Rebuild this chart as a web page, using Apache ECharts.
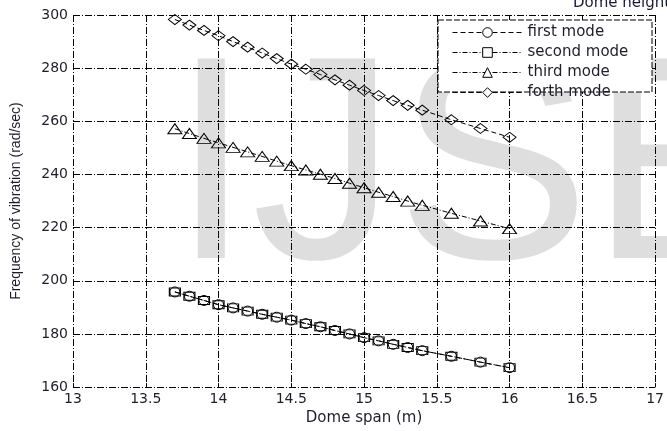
<!DOCTYPE html>
<html>
<head>
<meta charset="UTF-8">
<title>Dome span vs frequency</title>
<script src="https://cdn.jsdelivr.net/npm/echarts@6/dist/echarts.min.js"></script>
<style>
html, body { margin: 0; padding: 0; background: #fff; }
#chart { width: 667px; height: 431px; }
</style>
</head>
<body>
<div id="chart"></div>
<script type="text/javascript">
// dome span (m)
var spans = [13.7, 13.8, 13.9, 14.0, 14.1, 14.2, 14.3, 14.4, 14.5, 14.6, 14.7,
             14.8, 14.9, 15.0, 15.1, 15.2, 15.3, 15.4, 15.6, 15.8, 16.0];
// frequency of vibration (rad/sec)
var firstMode  = [195.8, 194.2, 192.6, 191.0, 189.8, 188.6, 187.4, 186.3, 185.2, 183.9, 182.7,
                  181.3, 180.0, 178.6, 177.4, 176.1, 174.9, 173.7, 171.6, 169.4, 167.3];
var secondMode = [195.8, 194.2, 192.6, 191.0, 189.8, 188.6, 187.4, 186.3, 185.2, 183.9, 182.7,
                  181.3, 180.0, 178.6, 177.4, 176.1, 174.9, 173.7, 171.6, 169.4, 167.3];
var thirdMode  = [257.2, 255.4, 253.6, 251.9, 250.2, 248.5, 246.8, 245.0, 243.3, 241.7, 240.1,
                  238.5, 236.7, 235.0, 233.3, 231.7, 230.0, 228.4, 225.4, 222.5, 219.6];
var forthMode  = [298.3, 296.2, 294.2, 292.2, 290.0, 287.9, 285.7, 283.6, 281.5, 279.6, 277.6,
                  275.6, 273.6, 271.6, 269.7, 267.8, 266.0, 264.2, 260.6, 257.3, 254.0];
var modeNames = ['first mode', 'second mode', 'third mode', 'forth mode'];

function pairs(vals) {
	return spans.map(function (s, i) { return [s, vals[i]]; });
}

var gridDash = [7, 2, 1, 2];
var txt = '#1e1e2a';

var chart = echarts.init(document.getElementById('chart'));

function modeSeries(name, vals, symbol, size, dash) {
	return {
		name: name,
		type: 'line',
		data: pairs(vals),
		symbol: symbol,
		symbolSize: size,
		showAllSymbol: true,
		lineStyle: { color: '#000', width: 1, type: dash },
		itemStyle: { color: 'transparent', borderColor: '#000', borderWidth: 1 },
		emphasis: { disabled: true },
		z: 5
	};
}

var option = {
	animation: false,
	backgroundColor: '#fff',
	textStyle: { fontFamily: '"DejaVu Sans", sans-serif' },
	grid: { left: 73, right: 6, top: 15, bottom: 38 },
	title: {
		text: 'Dome height',
		left: 568, top: -9,
		textStyle: { fontSize: 15, fontWeight: 'normal', color: '#1a1a3a', fontFamily: '"DejaVu Sans"' }
	},
	legend: {
		data: modeNames,
		orient: 'vertical',
		left: 452, top: 25,
		padding: 0,
		itemWidth: 70, itemHeight: 12, itemGap: 5,
		itemStyle: { color: '#fff', borderColor: '#000', borderWidth: 1 },
		lineStyle: { color: '#000', width: 1 },
		textStyle: { fontSize: 15, color: txt, fontFamily: '"DejaVu Sans"' },
		z: 6
	},
	xAxis: [{
		type: 'value', min: 13, max: 17, interval: 0.5,
		name: 'Dome span (m)', nameLocation: 'middle', nameGap: 21,
		nameTextStyle: { fontSize: 15, color: txt },
		axisLine: { show: false },
		axisTick: { show: true, inside: true, length: 4, lineStyle: { color: '#000' } },
		axisLabel: { margin: 5, fontSize: 14, color: txt },
		splitLine: { show: true, lineStyle: { color: '#000', width: 1, type: gridDash } }
	}, {
		type: 'value', min: 13, max: 17, interval: 0.5, position: 'top',
		axisLine: { show: false },
		axisTick: { show: true, inside: true, length: 4, lineStyle: { color: '#000' } },
		axisLabel: { show: false },
		splitLine: { show: false }
	}],
	yAxis: [{
		type: 'value', min: 160, max: 300, interval: 20,
		name: 'Frequency of vibration (rad/sec)', nameLocation: 'middle', nameGap: 50,
		nameTextStyle: { fontSize: 14, color: txt, fontFamily: '"Liberation Sans Narrow", "Liberation Sans", sans-serif' },
		axisLine: { show: false },
		axisTick: { show: true, inside: true, length: 4, lineStyle: { color: '#000' } },
		axisLabel: { margin: 5, fontSize: 14, color: txt },
		splitLine: { show: true, lineStyle: { color: '#000', width: 1, type: gridDash } }
	}, {
		type: 'value', min: 160, max: 300, interval: 20, position: 'right',
		axisLine: { show: false },
		axisTick: { show: true, inside: true, length: 4, lineStyle: { color: '#000' } },
		axisLabel: { show: false },
		splitLine: { show: false }
	}],
	graphic: [{
		// faint watermark behind the figure
		type: 'text',
		x: 171, y: 178,
		style: {
			text: 'IJSER',
			font: '290px "Liberation Sans"',
			fill: '#dedede',
			verticalAlign: 'middle'
		},
		z: -10, silent: true
	}, {
		// legend frame
		type: 'rect',
		shape: { x: 438, y: 20, width: 214, height: 72 },
		style: { fill: '#fff', stroke: '#000', lineWidth: 1, lineDash: [6, 2] },
		z: 3, silent: true
	}],
	series: [
		modeSeries(modeNames[0], firstMode, 'circle', 10, [5, 3]),
		modeSeries(modeNames[1], secondMode, 'rect', [11, 8], [5, 2, 1, 2]),
		modeSeries(modeNames[2], thirdMode, 'triangle', [14, 10], [5, 2, 1, 2]),
		modeSeries(modeNames[3], forthMode, 'diamond', [13, 10], [5, 3])
	]
};
chart.setOption(option);
</script>
</body>
</html>
